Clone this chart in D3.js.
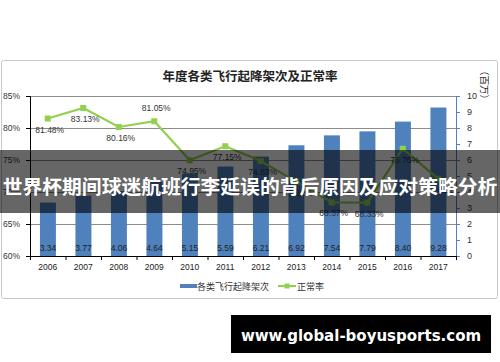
<!DOCTYPE html>
<html>
<head>
<meta charset="utf-8">
<script src="https://cdn.jsdelivr.net/npm/d3@7"></script>
<style>
	html, body { margin: 0; padding: 0; background: #fff; }
	svg { display: block; font-family: "Liberation Sans", "Noto Sans CJK SC", sans-serif; }
	.cjk { font-family: "Noto Sans CJK SC", sans-serif; }
</style>
</head>
<body>
<div id="chart"></div>
<script>
// data
var years = ["2006", "2007", "2008", "2009", "2010", "2011", "2012", "2013", "2014", "2015", "2016", "2017"];
var flights = [3.34, 3.77, 4.06, 4.64, 5.15, 5.59, 6.21, 6.92, 7.54, 7.79, 8.40, 9.28];
var punctuality = [81.48, 83.13, 80.16, 81.05, 74.95, 77.15, 74.83, 71.62, 68.37, 68.33, 76.76, 72.05];
// which labels sit above the point (1) or below (0)
var labelAbove = [0, 0, 0, 1, 0, 0, 0, 0, 0, 0, 0, 0];
var leftTicks = [60, 65, 70, 75, 80, 85];
var rightTicks = [0, 1, 2, 3, 4, 5, 6, 7, 8, 9, 10];

var title = "年度各类飞行起降架次及正常率";
var barName = "各类飞行起降架次";
var lineName = "正常率";
var unitLabel = "（百万）";
var bannerText = "世界杯期间球迷航班行李延误的背后原因及应对策略分析";
var siteText = "www.global-boyusports.com";

var W = 500, H = 362;
var plot = {left: 30, right: 456, top: 96, bottom: 256};

var svg = d3.select("#chart").append("svg")
	.attr("width", W)
	.attr("height", H);

// chart frame
svg.append("rect")
	.attr("x", 1.5).attr("y", 60.5)
	.attr("width", 496).attr("height", 238)
	.attr("rx", 2)
	.attr("fill", "#fff")
	.attr("stroke", "#c8c8c8");

var x = d3.scaleBand()
	.domain(years)
	.range([plot.left, plot.right]);
var yL = d3.scaleLinear().domain([60, 85]).range([plot.bottom, plot.top]);
var yR = d3.scaleLinear().domain([0, 10]).range([plot.bottom, plot.top]);

// gridlines
svg.append("g")
	.selectAll("line")
	.data(leftTicks.filter(d => d > 60))
	.join("line")
	.attr("x1", plot.left).attr("x2", plot.right)
	.attr("y1", d => Math.round(yL(d)) + 0.5)
	.attr("y2", d => Math.round(yL(d)) + 0.5)
	.attr("stroke", "#8c8c8c")
	.attr("stroke-width", 1);

// bars
svg.append("g")
	.selectAll("rect")
	.data(flights)
	.join("rect")
	.attr("x", (d, i) => x(years[i]) + x.bandwidth() * 0.28)
	.attr("width", x.bandwidth() * 0.45)
	.attr("y", d => yR(d))
	.attr("height", d => plot.bottom - yR(d))
	.attr("fill", "#4f81bd");

// bar labels
svg.append("g")
	.selectAll("text")
	.data(flights)
	.join("text")
	.attr("x", (d, i) => x(years[i]) + x.bandwidth() * 0.505)
	.attr("y", 251)
	.attr("text-anchor", "middle")
	.attr("font-size", 8.5)
	.attr("fill", "#1f1f1f")
	.text(d => d.toFixed(2));

// left axis
var axisL = svg.append("g")
	.attr("transform", "translate(" + plot.left + ",0)")
	.call(d3.axisLeft(yL).tickValues(leftTicks).tickFormat(d => d + "%").tickSize(4).tickPadding(6));
axisL.select(".domain").attr("stroke", "#000");
axisL.selectAll("text").attr("font-size", 8.5).attr("fill", "#333");

// right axis
var axisR = svg.append("g")
	.attr("transform", "translate(" + plot.right + ",0)")
	.call(d3.axisRight(yR).tickValues(rightTicks).tickSize(4).tickPadding(7));
axisR.select(".domain").attr("stroke", "#4f81bd");
axisR.selectAll("line").attr("stroke", "#4f81bd");
axisR.selectAll("text").attr("font-size", 9).attr("fill", "#333");

// bottom axis, ticks at band edges
var axisB = svg.append("g")
	.attr("transform", "translate(0," + plot.bottom + ")")
	.call(d3.axisBottom(x).tickSize(0).tickPadding(8));
axisB.select(".domain").attr("stroke", "#000");
axisB.selectAll("text").attr("font-size", 8.5).attr("fill", "#222");
axisB.selectAll(".edge")
	.data(years.concat(["end"]))
	.join("line")
	.attr("class", "edge")
	.attr("x1", (d, i) => plot.left + i * x.step() + 0.5)
	.attr("x2", (d, i) => plot.left + i * x.step() + 0.5)
	.attr("y1", 0).attr("y2", 4)
	.attr("stroke", "#000");

// punctuality line
var line = d3.line()
	.x((d, i) => x(years[i]) + x.bandwidth() / 2)
	.y(d => yL(d));

svg.append("path")
	.datum(punctuality)
	.attr("d", line)
	.attr("fill", "none")
	.attr("stroke", "#92d050")
	.attr("stroke-width", 2.2);

svg.append("g")
	.selectAll("rect")
	.data(punctuality)
	.join("rect")
	.attr("x", (d, i) => x(years[i]) + x.bandwidth() / 2 - 3)
	.attr("y", d => yL(d) - 3)
	.attr("width", 6).attr("height", 6)
	.attr("fill", "#92d050");

svg.append("g")
	.selectAll("text")
	.data(punctuality)
	.join("text")
	.attr("x", (d, i) => x(years[i]) + x.bandwidth() / 2 + 2)
	.attr("y", (d, i) => yL(d) + (labelAbove[i] ? -10 : 14))
	.attr("text-anchor", "middle")
	.attr("font-size", 8.5)
	.attr("fill", "#333")
	.text(d => d.toFixed(2) + "%");

// title
svg.append("text")
	.attr("class", "cjk")
	.attr("x", 250).attr("y", 81)
	.attr("text-anchor", "middle")
	.attr("font-size", 12.5)
	.attr("font-weight", "bold")
	.attr("fill", "#222")
	.text(title);

// unit label on the right axis
svg.append("text")
	.attr("class", "cjk")
	.attr("transform", "translate(481,66) rotate(90)")
	.attr("font-size", 9.5)
	.attr("fill", "#222")
	.text(unitLabel);

// legend
var legend = svg.append("g").attr("class", "cjk");
legend.append("rect")
	.attr("x", 180).attr("y", 284)
	.attr("width", 17).attr("height", 4)
	.attr("fill", "#4f81bd");
legend.append("text")
	.attr("x", 197).attr("y", 289.5)
	.attr("font-size", 9)
	.attr("fill", "#333")
	.text(barName);
legend.append("line")
	.attr("x1", 278).attr("x2", 296)
	.attr("y1", 286).attr("y2", 286)
	.attr("stroke", "#92d050").attr("stroke-width", 2);
legend.append("rect")
	.attr("x", 284.5).attr("y", 283.5)
	.attr("width", 5).attr("height", 5)
	.attr("fill", "#92d050");
legend.append("text")
	.attr("x", 297).attr("y", 289.5)
	.attr("font-size", 9)
	.attr("fill", "#333")
	.text(lineName);

// dark banner across the middle
svg.append("rect")
	.attr("x", 0).attr("y", 150)
	.attr("width", W).attr("height", 63)
	.attr("fill", "#000")
	.attr("fill-opacity", 0.6);
svg.append("text")
	.attr("class", "cjk")
	.attr("x", 250).attr("y", 194)
	.attr("text-anchor", "middle")
	.attr("font-size", 19.8)
	.attr("font-weight", "bold")
	.attr("fill", "#fff")
	.text(bannerText);

// site box
svg.append("rect")
	.attr("x", 231).attr("y", 315)
	.attr("width", 260).attr("height", 38)
	.attr("fill", "#000");
svg.append("text")
	.attr("x", 361).attr("y", 341)
	.attr("text-anchor", "middle")
	.attr("font-family", "'DejaVu Sans', sans-serif")
	.attr("font-size", 15)
	.attr("font-weight", "bold")
	.attr("fill", "#fff")
	.text(siteText);
</script>
</body>
</html>
